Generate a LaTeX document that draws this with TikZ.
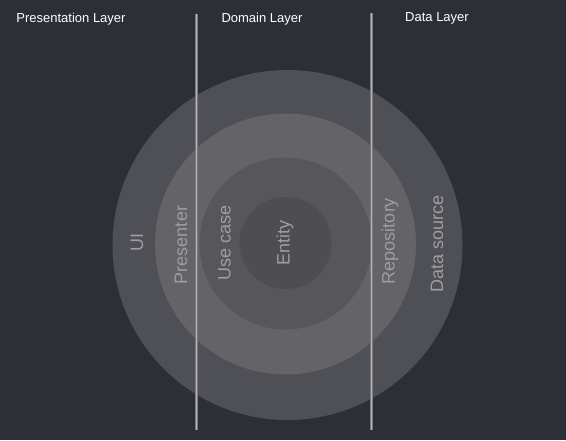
\documentclass[tikz,border=0pt]{standalone}
\usepackage{fontspec}
\setmainfont{Liberation Sans}
\definecolor{bg}{HTML}{2D2F36}
\definecolor{ringA}{HTML}{4F5056}
\definecolor{ringB}{HTML}{636368}
\definecolor{ringC}{HTML}{56565B}
\definecolor{ringD}{HTML}{4E4E52}
\definecolor{lbl}{HTML}{9E9EA2}
\definecolor{sep}{HTML}{B4B4B8}
\definecolor{sepedge}{HTML}{7A7A7E}
\begin{document}
\begin{tikzpicture}[x=1pt,y=1pt,
  header/.style={text=white,font=\fontsize{13}{15}\selectfont,inner sep=0pt},
  ringlabel/.style={text=lbl,font=\fontsize{18}{20}\selectfont,rotate=90,inner sep=0pt},
  sepline/.style={line width=3pt,draw=sepedge},
  sepcore/.style={line width=1.6pt,draw=sep}]
\useasboundingbox (0,0) rectangle (566,-440);
\fill[bg] (0,0) rectangle (566,-440);
% rings
\fill[ringA] (287.5,-245) circle[radius=175];
\fill[ringB] (285.5,-244) circle[radius=130.5];
\fill[ringC] (285.5,-243.5) circle[radius=86];
\fill[ringD] (285.5,-243) circle[radius=46];
% separators
\coordinate (s1t) at (196.5,-14);
\coordinate (s1b) at (196.5,-430);
\coordinate (s2t) at (371.5,-13);
\coordinate (s2b) at (371.5,-430);
\draw[sepline] (s1t) -- (s1b);
\draw[sepcore] (s1t) -- (s1b);
\draw[sepline] (s2t) -- (s2b);
\draw[sepcore] (s2t) -- (s2b);
% headers
\node[header] (hp) at (71,-19) {Presentation Layer};
\node[header] (hd) at (262,-19) {Domain Layer};
\node[header] (hdl) at (437,-18) {Data Layer};
% ring labels
\node[ringlabel] (ui) at (137,-242) {UI};
\node[ringlabel] (pr) at (181,-245) {Presenter};
\node[ringlabel] (uc) at (224.5,-243) {Use case};
\node[ringlabel] (en) at (285,-243) {Entity};
\node[ringlabel] (re) at (390,-241) {Repository};
\node[ringlabel] (ds) at (437,-244) {Data source};
\end{tikzpicture}
\end{document}
